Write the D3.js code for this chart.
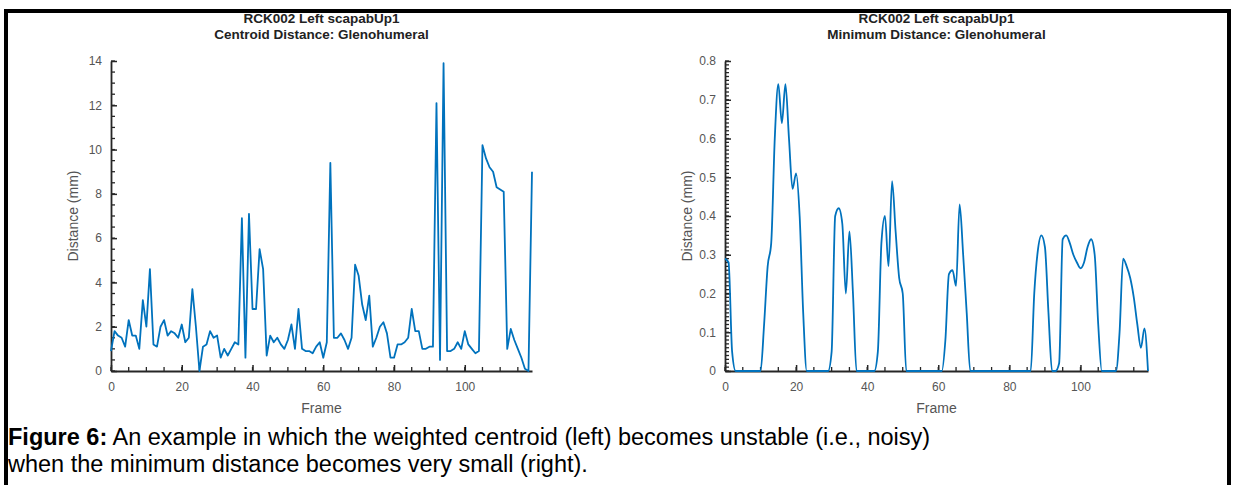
<!DOCTYPE html>
<html>
<head>
<meta charset="utf-8">
<script src="https://cdn.jsdelivr.net/npm/d3@7"></script>
<style>
  body { margin: 0; background: #fff; }
  text { font-family: Arial, "Liberation Sans", Helvetica, sans-serif; }
  .tick-label { font-size: 12px; fill: #555; }
  .axis-label { font-size: 14px; fill: #555; }
  .title { font-size: 13.5px; font-weight: bold; fill: #222; }
  .caption { font-size: 23.5px; fill: #000; }
</style>
</head>
<body>
<svg id="fig" width="1234" height="485"></svg>
<script>
// Titles / labels
const titleLine1 = 'RCK002 Left scapabUp1';
const titleLeft2 = 'Centroid Distance: Glenohumeral';
const titleRight2 = 'Minimum Distance: Glenohumeral';
const xLabelText = 'Frame';
const yLabelText = 'Distance (mm)';

// Frames 0..119
const frames = d3.range(0, 120);

// Centroid distance (mm)
const centroidDist = [
  0.9, 1.8, 1.6, 1.5, 1.1, 2.3, 1.6, 1.6, 1.0, 3.2,
  2.0, 4.6, 1.2, 1.1, 2.0, 2.3, 1.6, 1.8, 1.7, 1.5,
  2.1, 1.3, 1.5, 3.7, 2.0, 0.0, 1.1, 1.2, 1.8, 1.5,
  1.6, 0.6, 1.0, 0.7, 1.0, 1.3, 1.2, 6.9, 0.6, 7.1,
  2.8, 2.8, 5.5, 4.6, 0.7, 1.6, 1.3, 1.5, 1.2, 1.0,
  1.4, 2.1, 1.0, 2.8, 1.0, 0.9, 0.9, 0.8, 1.1, 1.3,
  0.6, 1.3, 9.4, 1.5, 1.5, 1.7, 1.4, 1.0, 1.5, 4.8,
  4.3, 3.0, 2.3, 3.4, 1.1, 1.5, 2.0, 2.2, 1.7, 0.6,
  0.6, 1.2, 1.2, 1.3, 1.5, 2.8, 1.8, 1.8, 1.0, 1.0,
  1.1, 1.1, 12.1, 0.5, 13.9, 0.9, 0.9, 1.0, 1.3, 1.0,
  1.8, 1.2, 1.0, 0.8, 0.9, 10.2, 9.6, 9.2, 9.0, 8.3,
  8.2, 8.1, 1.0, 1.9, 1.4, 1.0, 0.6, 0.1, 0.0, 9.0
];

// Minimum distance (mm)
const minDist = [
  0.29, 0.28, 0.05, 0, 0, 0, 0, 0, 0, 0,
  0, 0.12, 0.27, 0.33, 0.6, 0.74, 0.64, 0.74, 0.6, 0.47,
  0.51, 0.4, 0.15, 0, 0, 0, 0, 0, 0, 0,
  0.05, 0.4, 0.42, 0.38, 0.2, 0.36, 0.2, 0, 0, 0,
  0, 0, 0, 0.05, 0.33, 0.4, 0.27, 0.49, 0.36, 0.24,
  0.2, 0, 0, 0, 0, 0, 0, 0, 0, 0,
  0, 0, 0.08, 0.25, 0.26, 0.22, 0.43, 0.3, 0.15, 0,
  0, 0, 0, 0, 0, 0, 0, 0, 0, 0,
  0, 0, 0, 0, 0, 0, 0, 0.2, 0.31, 0.35,
  0.32, 0.15, 0, 0, 0.02, 0.34, 0.35, 0.33, 0.3, 0.28,
  0.265, 0.28, 0.32, 0.34, 0.3, 0.12, 0, 0, 0, 0,
  0, 0.1, 0.29, 0.27, 0.24, 0.19, 0.12, 0.06, 0.11, 0
];

// Tick values
const xTicks = [0, 20, 40, 60, 80, 100];
const yTicksLeft = [0, 2, 4, 6, 8, 10, 12, 14];
const yTicksRight = [0, 0.1, 0.2, 0.3, 0.4, 0.5, 0.6, 0.7, 0.8];

const captionBold = 'Figure 6:';
const captionRest = ' An example in which the weighted centroid (left) becomes unstable (i.e., noisy)';
const captionLine2 = 'when the minimum distance becomes very small (right).';

const svg = d3.select('#fig');
const axisColor = '#262626';
const lineColor = '#0072BD';

//Outer frame (top, left, right edges of table cell)
svg.append('path')
  .attr('d', 'M6,485 L6,11 L1229,11 L1229,485')
  .attr('fill', 'none')
  .attr('stroke', '#000')
  .attr('stroke-width', 4);

const drawPanel = (opts) => {
  const { left, right, top, bottom, yMax, yTicks, yMinor, yFmt, values, sub, curve } = opts;

  const xScale = d3.scaleLinear().domain([0, 119]).range([left, right]);
  const yScale = d3.scaleLinear().domain([0, yMax]).range([bottom, top]);

  const g = svg.append('g');

  //minor ticks (inward)
  const xMinor = d3.range(0, 120, 5);
  g.append('g').selectAll('line').data(xMinor).enter().append('line')
    .attr('x1', d => xScale(d)).attr('x2', d => xScale(d))
    .attr('y1', bottom).attr('y2', bottom - 4)
    .attr('stroke', axisColor).attr('stroke-width', 1.3);
  g.append('g').selectAll('line').data(yMinor).enter().append('line')
    .attr('x1', left).attr('x2', left + 4)
    .attr('y1', d => yScale(d)).attr('y2', d => yScale(d))
    .attr('stroke', axisColor).attr('stroke-width', 1.3);

  // x axis, ticks pointing in
  const xAxisG = g.append('g')
    .attr('transform', `translate(0,${bottom})`)
    .call(d3.axisBottom(xScale).tickValues(xTicks).tickSizeInner(-6).tickSizeOuter(0).tickPadding(11));
  // y axis
  const yAxisG = g.append('g')
    .attr('transform', `translate(${left},0)`)
    .call(d3.axisLeft(yScale).tickValues(yTicks).tickFormat(yFmt).tickSizeInner(-6).tickSizeOuter(0).tickPadding(9));

  [xAxisG, yAxisG].forEach(a => {
    a.select('.domain').attr('stroke', axisColor).attr('stroke-width', 1.8);
    a.selectAll('.tick line').attr('stroke', axisColor).attr('stroke-width', 1.5);
    a.selectAll('.tick text').attr('class', 'tick-label').attr('font-size', null).attr('font-family', null).attr('fill', null);
  });

  //data line
  const line = d3.line()
    .x((d, i) => xScale(frames[i]))
    .y(d => yScale(d))
    .curve(curve);
  g.append('path')
    .datum(values)
    .attr('d', line)
    .attr('fill', 'none')
    .attr('stroke', lineColor)
    .attr('stroke-width', 1.8)
    .attr('stroke-linejoin', 'round');

  //titles
  const cx = (left + right) / 2;
  g.append('text').attr('class', 'title').attr('x', cx).attr('y', 23)
    .attr('text-anchor', 'middle').text(titleLine1);
  g.append('text').attr('class', 'title').attr('x', cx).attr('y', 39)
    .attr('text-anchor', 'middle').text(sub);

  //axis labels
  g.append('text').attr('class', 'axis-label').attr('x', cx).attr('y', bottom + 42)
    .attr('text-anchor', 'middle').text(xLabelText);
  g.append('text').attr('class', 'axis-label')
    .attr('transform', `translate(${left - 33},${(top + bottom) / 2}) rotate(-90)`)
    .attr('text-anchor', 'middle').text(yLabelText);
};

drawPanel({
  left: 111, right: 532, top: 61, bottom: 371, yMax: 14,
  yTicks: yTicksLeft, yMinor: d3.range(0, 14.01, 0.5), yFmt: d3.format('d'),
  values: centroidDist, sub: titleLeft2, curve: d3.curveLinear
});

drawPanel({
  left: 725, right: 1148, top: 61, bottom: 371, yMax: 0.8,
  yTicks: yTicksRight, yMinor: d3.range(0, 81).map(i => i / 100), yFmt: d => d === 0 ? '0' : d3.format('.1f')(d),
  values: minDist, sub: titleRight2, curve: d3.curveMonotoneX
});

// Caption
const cap = svg.append('text').attr('class', 'caption').attr('x', 8).attr('y', 445);
cap.append('tspan').attr('font-weight', 'bold').text(captionBold);
cap.append('tspan').text(captionRest);
svg.append('text').attr('class', 'caption').attr('x', 8).attr('y', 472).text(captionLine2);
</script>
</body>
</html>
